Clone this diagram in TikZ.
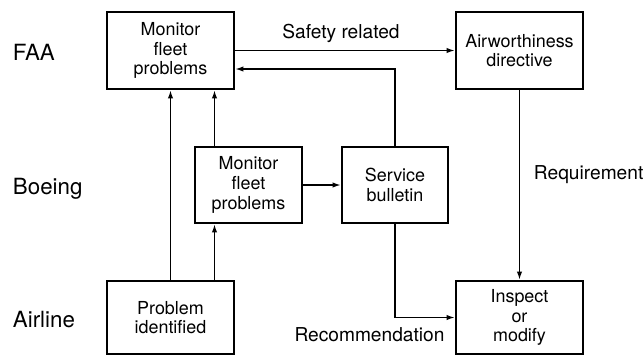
\documentclass[tikz,border=0pt]{standalone}
\usepackage{fontspec}
\setmainfont{TeX Gyre Heros}
\usepackage{tikz}
\usetikzlibrary{positioning,arrows.meta}

\begin{document}
\begin{tikzpicture}[
    box/.style={rectangle, draw, line width=1.1pt, align=center,
        minimum width=2.54cm, minimum height=1.54cm,
        font=\fontsize{10.2}{11.2}\selectfont},
    lbl/.style={inner sep=0pt, font=\fontsize{10.9}{12}\selectfont},
    party/.style={inner sep=0pt, anchor=base west, font=\fontsize{12.7}{14}\selectfont},
    line width=1.1pt,
    >={Latex[length=1.7mm,width=1.1mm]}
]
\useasboundingbox (0,0) rectangle (12.86,-7.12);

% rows
\node[party] (faa) at (0.24,-1.20) {FAA};
\node[party] (boeing) at (0.24,-3.88) {Boeing};
\node[party] (airline) at (0.24,-6.54) {Airline};

% boxes
\node[box] (A) at (3.41,-1.01) {Monitor\\fleet\\problems};
\node[box] (B) at (10.39,-1.01) {Airworthiness\\directive};
\node[box, minimum width=2.14cm, minimum height=1.52cm] (C) at (4.97,-3.70) {Monitor\\fleet\\problems};
\node[box, minimum width=2.12cm, minimum height=1.52cm] (D) at (7.90,-3.70) {Service\\bulletin};
\node[box, minimum height=1.46cm] (E) at (3.41,-6.35) {Problem\\identified};
\node[box, minimum height=1.46cm] (F) at (10.39,-6.35) {Inspect\\or\\modify};

\coordinate (col) at (4.29,0);

% connectors
\draw[->] (A.east) -- node[lbl, midway, anchor=base, xshift=-0.8mm, yshift=2.4mm] {Safety related} (B.west);
\draw[->] (D.north) |- ([yshift=-3.7mm]A.east);
\draw[->] (E.north) -- (A.south);
\draw[->] (C.north -| col) -- (A.south -| col);
\draw[->] (E.north -| col) -- (C.south -| col);
\draw[->] (C.east) -- (D.west);
\draw[->] (B.south) -- node[lbl, pos=0.47, anchor=base west, xshift=2.7mm] {Requirement} (F.north);
\draw[->] (D.south) |- node[lbl, pos=0.5, anchor=base, xshift=-5.1mm, yshift=-4.8mm] {Recommendation} (F.west);

\end{tikzpicture}
\end{document}
